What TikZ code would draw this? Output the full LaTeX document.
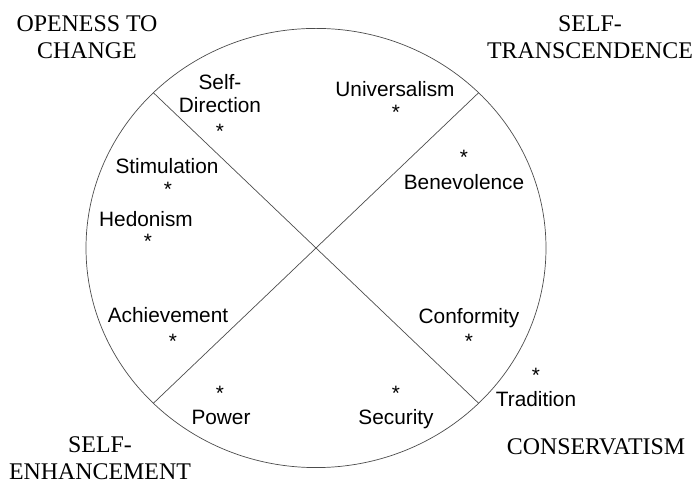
\documentclass[tikz,border=0pt]{standalone}
\usepackage{fontspec}
\newfontfamily\valuefont{Liberation Sans}
\newfontfamily\regionfont{Liberation Serif}

\begin{document}
\begin{tikzpicture}[
    value/.style={font=\valuefont\fontsize{14.8}{16.4}\selectfont, inner sep=0pt, anchor=base, align=center},
    region/.style={font=\regionfont\fontsize{17}{19.2}\selectfont, inner sep=0pt, align=center},
    border/.style={draw=black!70, line width=0.5pt}
]

        \useasboundingbox (0,0) rectangle (17.4,12.1);

        % ==========================================
        % CERCHIO: ellisse con le due diagonali
        % ==========================================

        \coordinate (c) at (7.9,5.9);
        \draw[border] (c) ellipse [x radius=5.75, y radius=5.49];

        % Estremi delle diagonali sul bordo
        \coordinate (ne) at ([shift={(45:5.75 and 5.49)}]c);
        \coordinate (nw) at ([shift={(135:5.75 and 5.49)}]c);
        \coordinate (sw) at ([shift={(225:5.75 and 5.49)}]c);
        \coordinate (se) at ([shift={(315:5.75 and 5.49)}]c);

        \draw[border] (nw) -- (se);
        \draw[border] (ne) -- (sw);


        % ==========================================
        % VALORI: etichette e asterischi
        % ==========================================

        % Quadrante in alto
        \node[value, anchor=south] (selfdir) at (5.5, 9.275) {Self-\\Direction};
        \node[value] (selfdir-s) at (5.5, 8.625) {*};
        \node[value] (universalism) at (9.875, 9.675) {Universalism};
        \node[value] (universalism-s) at (9.9, 9.1) {*};

        % Quadrante a destra
        \node[value] (benevolence-s) at (11.6, 7.975) {*};
        \node[value] (benevolence) at (11.6, 7.35) {Benevolence};
        \node[value] (conformity) at (11.725, 4.0) {Conformity};
        \node[value] (conformity-s) at (11.725, 3.375) {*};
        \node[value] (tradition-s) at (13.4, 2.525) {*};
        \node[value] (tradition) at (13.4, 1.925) {Tradition};

        % Quadrante in basso
        \node[value] (security-s) at (9.9, 2.075) {*};
        \node[value] (security) at (9.9, 1.475) {Security};
        \node[value] (power-s) at (5.5, 2.075) {*};
        \node[value] (power) at (5.525, 1.475) {Power};

        % Quadrante a sinistra
        \node[value] (achievement) at (4.2, 4.025) {Achievement};
        \node[value] (achievement-s) at (4.325, 3.375) {*};
        \node[value] (hedonism) at (3.65, 6.425) {Hedonism};
        \node[value] (hedonism-s) at (3.7, 5.875) {*};
        \node[value] (stimulation) at (4.175, 7.75) {Stimulation};
        \node[value] (stimulation-s) at (4.2, 7.175) {*};


        % ==========================================
        % ANGOLI: dimensioni di ordine superiore
        % ==========================================

        \node[region] (openness) at (2.175, 11.175) {OPENESS TO\\CHANGE};
        \node[region] (transcendence) at (14.75, 11.175) {SELF-\\TRANSCENDENCE};
        \node[region] (enhancement) at (2.5, 0.64) {SELF-\\ENHANCEMENT};
        \node[region] (conservatism) at (14.9, 0.925) {CONSERVATISM};

\end{tikzpicture}
\end{document}
